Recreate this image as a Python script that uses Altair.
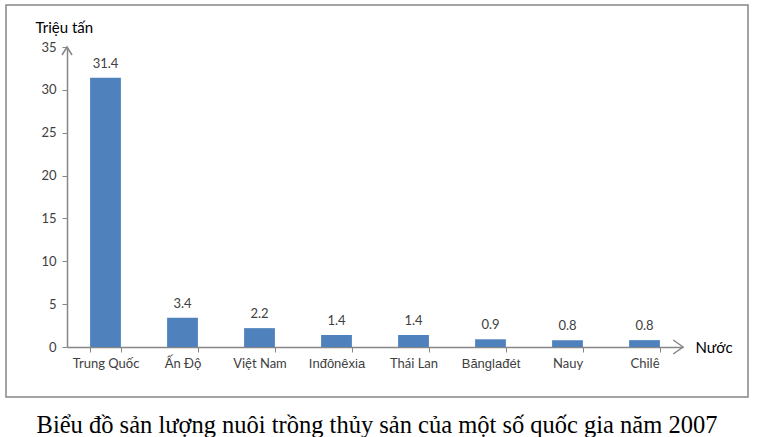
import altair as alt
import pandas as pd

countries = ["Trung Quốc", "Ấn Độ", "Việt Nam", "Inđônêxia", "Thái Lan", "Bănglađét", "Nauy", "Chilê"]
values = [31.4, 3.4, 2.2, 1.4, 1.4, 0.9, 0.8, 0.8]
value_labels = ["31.4", "3.4", "2.2", "1.4", "1.4", "0.9", "0.8", "0.8"]
y_ticks = [0, 5, 10, 15, 20, 25, 30, 35]
title_text = ["Biểu đồ sản lượng nuôi trồng thủy sản của một số quốc gia năm 2007"]

df = pd.DataFrame({"country": countries, "value": values, "label": value_labels})
one = pd.DataFrame({"a": [0]})
tdf = pd.DataFrame({"t": title_text})

W, H = 616, 300
AX = "#868686"
LAB = "#404040"

xenc = alt.X(
    "country:N",
    sort=countries,
    scale=alt.Scale(paddingInner=0.6, paddingOuter=0.3),
    axis=alt.Axis(
        title="Nước", titleAngle=0, titleX=W + 12, titleY=0, titleAlign="left",
        titleBaseline="middle", titleFont="Lato", titleFontSize=15, titleFontWeight="normal",
        titleColor="#000000",
        labelAngle=0, labelFontSize=13, labelPadding=5, labelColor=LAB,
        labelFont=alt.expr("indexof(['Inđônêxia','Bănglađét'], datum.value) >= 0 ? 'Liberation Sans' : 'Lato'"),
        tickBand="extent", tickSize=5, tickColor=AX, domainColor=AX, domainWidth=1.5,
    ),
)
yenc = alt.Y(
    "value:Q",
    scale=alt.Scale(domain=[0, 35], nice=False),
    axis=alt.Axis(
        values=y_ticks, grid=False, title="Triệu tấn", titleAngle=0, titleX=-32, titleY=-20,
        titleAlign="left", titleBaseline="middle", titleFont="Lato", titleFontSize=15,
        titleFontWeight="normal", titleColor="#000000",
        labelFont="Lato", labelFontSize=13, labelColor=LAB, labelPadding=6,
        tickSize=5, tickColor=AX, domainColor=AX, domainWidth=1.5,
    ),
)

border = alt.Chart(one).mark_rect(filled=False, stroke=AX, strokeWidth=1.5).encode(
    x=alt.value(-61), x2=alt.value(681), y=alt.value(-42), y2=alt.value(350)
)

bars = alt.Chart(df).mark_bar(color="#4F81BD").encode(x=xenc, y=yenc)
texts = alt.Chart(df).mark_text(baseline="middle", dy=-14, font="Lato", fontSize=13, color=LAB).encode(
    x=alt.X("country:N", sort=countries), y="value:Q", text="label:N"
)

up_arrow = alt.Chart(one).mark_point(
    shape="M-1,1.6L0,0L1,1.6", filled=False, stroke=AX, strokeWidth=1.5, size=100, opacity=1
).encode(x=alt.value(0), y=alt.datum(35))
right_arrow = alt.Chart(one).mark_point(
    shape="M-1.4,-1L0,0L-1.4,1", filled=False, stroke=AX, strokeWidth=1.5, size=196, opacity=1
).encode(x=alt.value(W), y=alt.datum(0))

title = alt.Chart(tdf).mark_text(
    font="Liberation Serif", fontSize=24.5, color="#000000", align="center", baseline="alphabetic"
).encode(x=alt.value(310), y=alt.value(386), text="t:N")

chart = alt.layer(border, bars, texts, up_arrow, right_arrow, title).properties(
    width=W, height=H,
    autosize=alt.AutoSizeParams(type="none"),
    padding={"left": 67, "top": 47, "right": 78, "bottom": 90},
).configure(background="white").configure_view(stroke=None)

chart.save("out.html", embed_options={"renderer": "svg", "actions": False})
